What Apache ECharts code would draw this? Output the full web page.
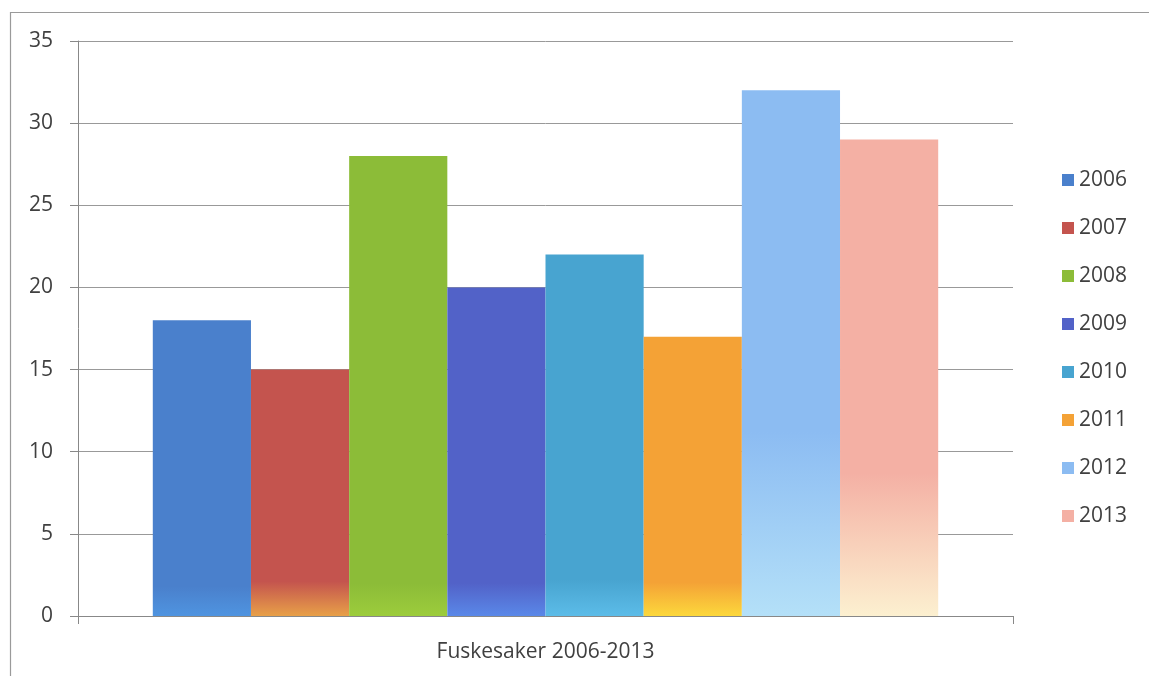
<!DOCTYPE html>
<html>
<head>
<meta charset="utf-8">
<script src="https://cdn.jsdelivr.net/npm/echarts@6/dist/echarts.min.js"></script>
<style>html,body{margin:0;padding:0;background:#fff}#c{width:1149px;height:676px}</style>
</head>
<body>
<div id="c"></div>
<script>
const categories = ['Fuskesaker 2006-2013'];
const years = ['2006','2007','2008','2009','2010','2011','2012','2013'];
const values = [18, 15, 28, 20, 22, 17, 32, 29];
const yTicks = [0, 5, 10, 15, 20, 25, 30, 35];
const topColors = ['#4a80cc','#c4544e','#8cbc38','#5262c8','#48a4d0','#f4a236','#8cbcf2','#f4b0a4'];
const bottomColors = ['#4f94e0','#e8a048','#9ccc3c','#5a88e8','#5cbce8','#fcd83c','#b4e0f8','#fcf0d0'];
const fadeShare = [0.10, 0.14, 0.07, 0.10, 0.10, 0.12, 0.35, 0.30];

const grad = (i) => new echarts.graphic.LinearGradient(0, 0, 0, 1, [
  {offset: 0, color: topColors[i]},
  {offset: 1 - fadeShare[i], color: topColors[i]},
  {offset: 1, color: bottomColors[i]}
]);

const chart = echarts.init(document.getElementById('c'), null, {renderer: 'canvas'});
const font = "'Open Sans', 'Liberation Sans', sans-serif";
chart.setOption({
  animation: false,
  backgroundColor: '#fff',
  graphic: [{
    type: 'rect', left: 8, top: 10, silent: true,
    shape: {width: 1200, height: 700},
    style: {fill: 'none', stroke: '#9a9a9a', lineWidth: 1.2}
  }],
  grid: {left: 78, right: 136, top: 41, bottom: 60, containLabel: false},
  legend: {
    orient: 'vertical', left: 1057, top: 164,
    itemWidth: 12, itemHeight: 12, itemGap: 26,
    icon: 'rect',
    textStyle: {fontFamily: font, fontSize: 21, color: '#404040', lineHeight: 22},
    data: years.map((y, i) => ({name: y, itemStyle: {color: topColors[i]}}))
  },
  xAxis: {
    type: 'category', data: categories,
    axisLine: {lineStyle: {color: '#888', width: 1}},
    axisTick: {show: true, length: 8, lineStyle: {color: '#888'}},
    axisLabel: {fontFamily: font, fontSize: 21, color: '#404040', margin: 26}
  },
  yAxis: {
    type: 'value', min: 0, max: 35, interval: 5,
    axisLine: {show: true, lineStyle: {color: '#888', width: 1}},
    axisTick: {show: true, length: 8, lineStyle: {color: '#888'}},
    splitLine: {lineStyle: {color: '#999', width: 1}},
    axisLabel: {fontFamily: font, fontSize: 21, color: '#404040', margin: 25}
  },
  series: years.map((y, i) => ({
    name: y, type: 'bar',
    data: [values[i]],
    barGap: '0%', barCategoryGap: '16%',
    itemStyle: {color: grad(i)}
  }))
});
</script>
</body>
</html>
